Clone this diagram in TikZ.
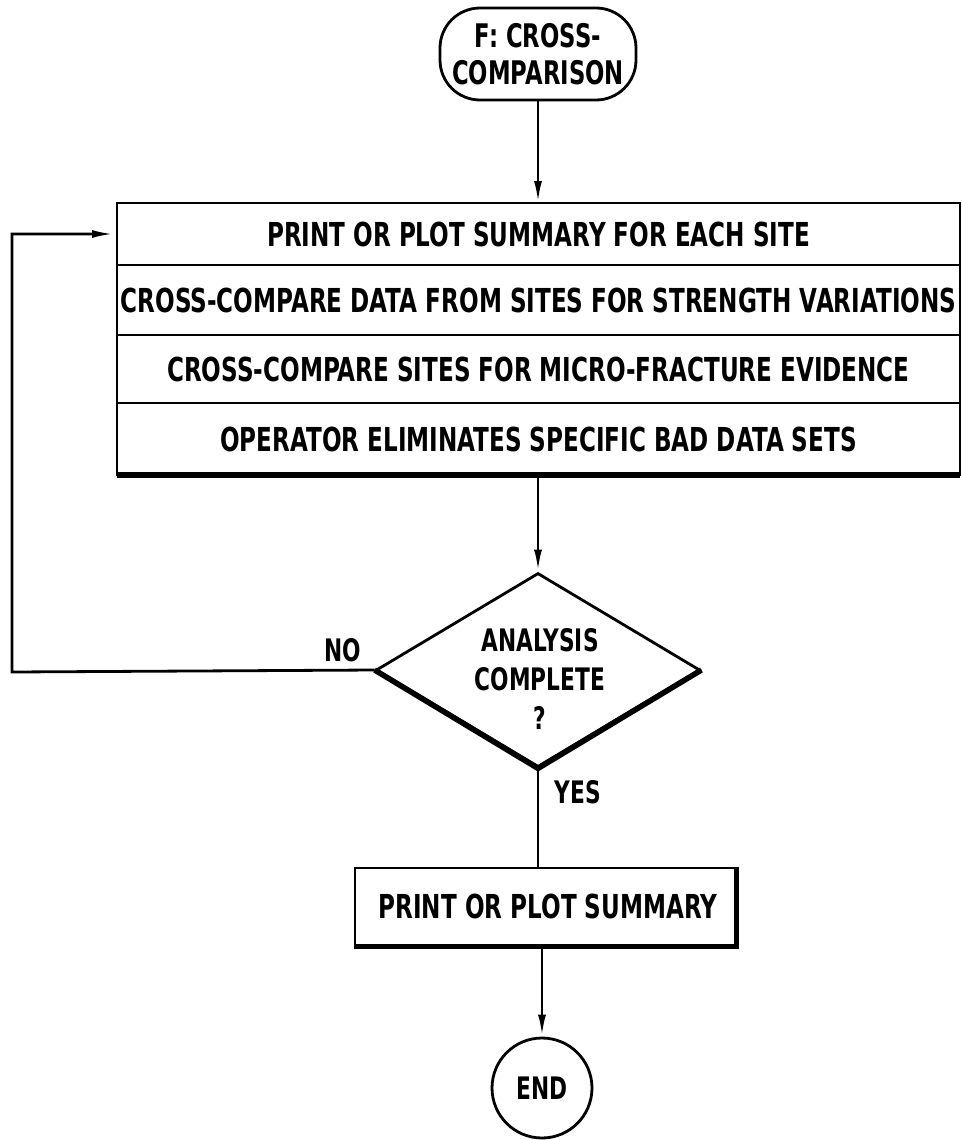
\documentclass[tikz,border=0pt]{standalone}
\usepackage{fontspec}
\newfontfamily\ff{DejaVu Sans}[FakeStretch=0.7]
\usetikzlibrary{arrows.meta,shapes.geometric}
\begin{document}
\begin{tikzpicture}[x=1pt,y=-1pt,line width=2.8pt,
  txt/.style={font=\ff\bfseries\fontsize{33}{38}\selectfont},
  rowbox/.style={draw,rectangle,minimum width=843pt,inner sep=0pt,outer sep=0pt,txt},
  arr/.style={-{Latex[length=22pt,width=8pt]}},
  thickedge/.style={line width=5.5pt}]
\useasboundingbox (0,0) rectangle (961,1140);
% terminal
\node[draw,rounded corners=40pt,minimum width=196pt,minimum height=92pt,inner sep=0pt,align=center,
  font=\ff\bfseries\fontsize{32.5}{37}\selectfont] (F) at (538,54) {F: CROSS-\\COMPARISON};
% big box rows
\node[rowbox,minimum height=62pt] (r1) at (538.5,234) {PRINT OR PLOT SUMMARY FOR EACH SITE};
\node[rowbox,minimum height=70pt] (r2) at (538.5,300) {CROSS-COMPARE DATA FROM SITES FOR STRENGTH VARIATIONS};
\node[rowbox,minimum height=68pt] (r3) at (538.5,369) {CROSS-COMPARE SITES FOR MICRO-FRACTURE EVIDENCE};
\node[rowbox,minimum height=72pt] (r4) at (538.5,439) {OPERATOR ELIMINATES SPECIFIC BAD DATA SETS};
\draw[thickedge] (r4.south west) -- (r4.south east);
% decision
\node[draw,diamond,minimum width=324pt,minimum height=194pt,inner sep=0pt] (D) at (538,670) {};
\node[txt,align=center,font=\ff\bfseries\fontsize{31}{39}\selectfont] (Dt) at (540,679) {ANALYSIS\\COMPLETE\\?};
\draw[thickedge,line join=round] (D.west) -- (D.south) -- (D.east);
% print summary
\node[draw,rectangle,minimum width=380pt,minimum height=77pt,inner sep=0pt,txt] (P) at (545,906.5) {\hspace{6pt}PRINT OR PLOT SUMMARY};
\draw[thickedge] (P.south west) -- (P.south east) -- (P.north east);
% end
\node[draw,circle,minimum size=100pt,inner sep=0pt,txt,font=\ff\bfseries\fontsize{31}{36}\selectfont] (E) at (542,1088) {END};
% labels
\node[txt,font=\ff\bfseries\fontsize{31}{36}\selectfont] (no) at (343,650) {NO};
\node[txt,font=\ff\bfseries\fontsize{31}{36}\selectfont] (yes) at (578,792) {YES};
% connectors
\coordinate (c1) at (12,672);
\draw[arr] (F.south) -- (F.south |- r1.north);
\draw[arr] (D.north |- r4.south) -- (D.north);
\draw (D.south) -- (D.south |- P.north);
\draw[arr] (E.north |- P.south) -- (E.north);
\draw[arr] (D.west) -- (c1) |- ([xshift=-3pt]r1.west);
\end{tikzpicture}
\end{document}
